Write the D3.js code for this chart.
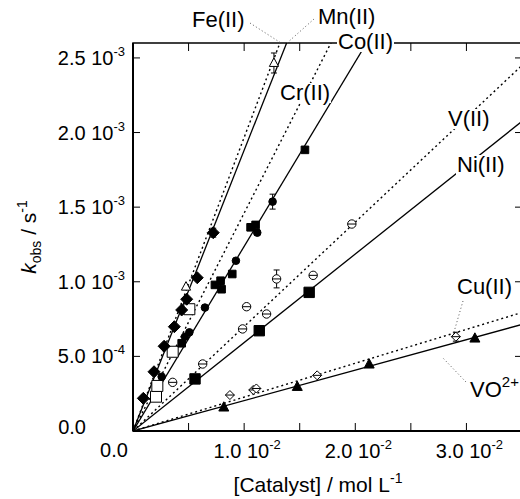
<!DOCTYPE html>
<html><head><meta charset="utf-8">
<script src="https://cdn.jsdelivr.net/npm/d3@7/dist/d3.min.js"></script>
<style>body{margin:0;background:#fff}text{font-family:"Liberation Sans",Arial,sans-serif;fill:#000}</style>
</head><body><svg id="c" width="520" height="499"></svg>
<script>
// ---------- data (concentration in mol/L, kobs in s^-1) ----------
const xMinorTicks = [0.005, 0.01, 0.015, 0.02, 0.025, 0.03];
const xLabelTicks = [0.01, 0.02, 0.03];
const xLabelMantissa = ["1.0", "2.0", "3.0"];
const xExponent = "-2";
const yTicks = [0.0005, 0.001, 0.0015, 0.002, 0.0025];
const yLabelMantissa = ["5.0", "1.0", "1.5", "2.0", "2.5"];
const yLabelExponent = ["-4", "-3", "-3", "-3", "-3"];

const feData = [[0.00477, 0.000967], [0.01268, 0.002466]];
const feErr  = [0, 0.000067];
const mnData = [[0.00093, 0.000219], [0.00189, 0.000397], [0.00280, 0.000568], [0.00372, 0.000699],
                [0.00438, 0.000811], [0.00483, 0.000883], [0.00578, 0.001027], [0.00722, 0.001329]];
const mnErr  = [0, 0, 0, 0, 0, 0, 0, 0.00003];
const crData = [[0.00207, 0.000230], [0.00219, 0.000302], [0.00357, 0.000531], [0.00507, 0.000816]];
const coCircles = [[0.00258, 0.000364], [0.00468, 0.000632], [0.00507, 0.000661], [0.00647, 0.000827],
                   [0.00926, 0.001141], [0.01118, 0.001329], [0.01256, 0.001537]];
const coCircErr = [0, 0, 0, 0, 0, 0, 0.00005];
const coSquares = [[0.00438, 0.000588], [0.00737, 0.000979], [0.00788, 0.001007], [0.00797, 0.000950],
                   [0.00893, 0.001052], [0.01058, 0.001365], [0.01103, 0.001381], [0.01547, 0.001884]];
const vData = [[0.00357, 0.000326], [0.00627, 0.000449], [0.00986, 0.000684], [0.01022, 0.000833],
               [0.01202, 0.000784], [0.01292, 0.001019], [0.01621, 0.001043], [0.01969, 0.001387]];
const vErr  = [0, 0, 0, 0, 0, 0.00006, 0, 0];
const niData = [[0.00558, 0.000349], [0.01136, 0.000672], [0.01585, 0.000929]];
const cuData = [[0.00872, 0.000241], [0.01082, 0.000275], [0.01110, 0.000285], [0.01657, 0.000373], [0.02905, 0.000632]];
const cuErr  = [0, 0, 0, 0, 0.00003];
const voData = [[0.00817, 0.000159], [0.01478, 0.000297], [0.02125, 0.000447], [0.03076, 0.000621]];

const lineNames  = ["Fe(II)", "Mn(II)", "Cr(II)", "Co(II)", "V(II)", "Ni(II)", "Cu(II)", "VO2+"];
const lineSlopes = [0.1967, 0.1881, 0.146, 0.1237, 0.070, 0.0593, 0.0227, 0.0204];

// ---------- drawing ----------
const svg = d3.select("#c");
const L = 133, R = 522, T = 43, B = 431;
const x = d3.scaleLinear().domain([0, 0.035]).range([L, R]);
const y = d3.scaleLinear().domain([0, 0.0026]).range([B, T]);

svg.append("defs").append("clipPath").attr("id", "pc")
  .append("rect").attr("x", L).attr("y", T).attr("width", R - L).attr("height", B - T);

const dashed = {"Fe(II)": true, "Cr(II)": true, "V(II)": true, "Cu(II)": true};
const lg = svg.append("g").attr("clip-path", "url(#pc)");
lineNames.forEach((n, i) => {
  lg.append("line")
    .attr("x1", x(0)).attr("y1", y(0))
    .attr("x2", x(0.035)).attr("y2", y(lineSlopes[i] * 0.035))
    .attr("stroke", "#000").attr("stroke-width", dashed[n] ? 1.4 : 1.3)
    .attr("stroke-dasharray", dashed[n] ? "2,3" : null);
});

// markers
const mg = svg.append("g");
function shape(kind, px, py, s) {
  switch (kind) {
    case "diamond": return `M${px},${py - s}L${px + s},${py}L${px},${py + s}L${px - s},${py}Z`;
    case "square": return `M${px - s},${py - s}h${2 * s}v${2 * s}h${-2 * s}Z`;
    case "triangle": return `M${px},${py - s * 1.1}L${px + s},${py + s * 0.75}L${px - s},${py + s * 0.75}Z`;
  }
}
function draw(data, kind, size, filled, errs, extra) {
  data.forEach((d, i) => {
    const px = x(d[0]), py = y(d[1]);
    if (errs && errs[i]) {
      const e1 = y(d[1] + errs[i]), e2 = y(d[1] - errs[i]);
      mg.append("line").attr("x1", px).attr("x2", px).attr("y1", e1).attr("y2", e2).attr("stroke", "#000").attr("stroke-width", 1);
      [e1, e2].forEach(e => mg.append("line").attr("x1", px - 3).attr("x2", px + 3).attr("y1", e).attr("y2", e).attr("stroke", "#000").attr("stroke-width", 1));
    }
    if (kind === "circle") {
      mg.append("circle").attr("cx", px).attr("cy", py).attr("r", size)
        .attr("fill", filled ? "#000" : "#fff").attr("stroke", "#000").attr("stroke-width", 1);
    } else {
      mg.append("path").attr("d", shape(kind, px, py, size))
        .attr("fill", filled ? "#000" : "#fff").attr("stroke", "#000").attr("stroke-width", 1);
    }
    if (extra) {
      mg.append("line").attr("x1", px - size).attr("x2", px + size).attr("y1", py).attr("y2", py).attr("stroke", "#000").attr("stroke-width", 1);
    }
  });
}
draw(crData, "square", 5.5, false, null, false);
draw(coSquares, "square", 3.8, true, null, false);
draw(coCircles, "circle", 3.8, true, coCircErr, false);
draw(mnData, "diamond", 6, true, mnErr, false);
draw(feData, "triangle", 4.6, false, feErr, false);
draw(vData, "circle", 4.2, false, vErr, true);
draw(niData, "square", 5.2, true, null, false);
draw(cuData, "diamond", 4.5, false, cuErr, true);
draw(voData, "triangle", 5, true, null, false);

// frame and ticks
const ag = svg.append("g").attr("stroke", "#000");
ag.append("rect").attr("x", L).attr("y", T).attr("width", R - L).attr("height", B - T)
  .attr("fill", "none").attr("stroke-width", 1.5);
ag.append("line").attr("x1", L).attr("x2", R).attr("y1", B).attr("y2", B).attr("stroke-width", 2.2);
ag.append("line").attr("x1", L).attr("x2", L).attr("y1", T).attr("y2", B).attr("stroke-width", 2);
xMinorTicks.forEach(v => {
  ag.append("line").attr("x1", x(v)).attr("x2", x(v)).attr("y1", B).attr("y2", B - 8).attr("stroke-width", 1);
  ag.append("line").attr("x1", x(v)).attr("x2", x(v)).attr("y1", T).attr("y2", T + 8).attr("stroke-width", 1);
});
yTicks.forEach(v => {
  ag.append("line").attr("x1", L).attr("x2", L + 7).attr("y1", y(v)).attr("y2", y(v)).attr("stroke-width", 1);
  ag.append("line").attr("x1", R).attr("x2", R - 7).attr("y1", y(v)).attr("y2", y(v)).attr("stroke-width", 1);
});

// tick labels
const tg = svg.append("g").style("font-size", "20px");
xLabelTicks.forEach((v, i) => {
  const t = tg.append("text").attr("x", x(v) + 3).attr("y", 458).attr("text-anchor", "middle");
  t.append("tspan").text(xLabelMantissa[i] + " 10");
  t.append("tspan").attr("dy", -9).style("font-size", "13px").text(xExponent);
});
tg.append("text").attr("x", 114).attr("y", 457).attr("text-anchor", "middle").text("0.0");
yTicks.forEach((v, i) => {
  const t = tg.append("text").attr("x", 125).attr("y", y(v) + 7).attr("text-anchor", "end");
  t.append("tspan").text(yLabelMantissa[i] + " 10");
  t.append("tspan").attr("dy", -9).style("font-size", "13px").text(yLabelExponent[i]);
});
tg.append("text").attr("x", 86).attr("y", 434).attr("text-anchor", "end").text("0.0");

// axis titles
const xt = svg.append("text").attr("x", 318).attr("y", 492).attr("text-anchor", "middle").style("font-size", "21px");
xt.append("tspan").text("[Catalyst] / mol L");
xt.append("tspan").attr("dy", -9).style("font-size", "14px").text("-1");

const yt = svg.append("text").attr("transform", "translate(36,237) rotate(-90)").attr("text-anchor", "middle").style("font-size", "21px");
yt.append("tspan").style("font-style", "italic").text("k");
yt.append("tspan").attr("dy", 5).style("font-size", "14px").text("obs");
yt.append("tspan").attr("dy", -5).text(" / s");
yt.append("tspan").attr("dy", -9).style("font-size", "14px").text("-1");

// leaders
const leaders = [[250, 23, 281, 43], [314, 19, 287, 43], [463, 301, 454, 332], [466, 382, 442, 357]];
leaders.forEach(l => svg.append("line").attr("x1", l[0]).attr("y1", l[1]).attr("x2", l[2]).attr("y2", l[3])
  .attr("stroke", "#555").attr("stroke-width", 1).attr("stroke-dasharray", "1,2.5"));

// series labels (white background)
const labelPos = {"Fe(II)": [192, 27, false], "Mn(II)": [318, 24, false], "Co(II)": [338, 49, true],
  "Cr(II)": [280, 100, true], "V(II)": [448, 126, true], "Ni(II)": [457, 172, true],
  "Cu(II)": [457, 294, false], "VO2+": [470, 397, false]};
const lab = svg.append("g").style("font-size", "22px");
Object.keys(labelPos).forEach(n => {
  const p = labelPos[n];
  const g = lab.append("g");
  const t = g.append("text").attr("x", p[0]).attr("y", p[1]);
  if (n === "VO2+") {
    t.append("tspan").text("VO");
    t.append("tspan").attr("dy", -10).style("font-size", "15px").text("2+");
  } else t.text(n);
  if (p[2]) {
    const bb = t.node().getBBox();
    g.insert("rect", "text").attr("x", bb.x - 1).attr("y", bb.y + 3).attr("width", bb.width + 2).attr("height", bb.height - 5).attr("fill", "#fff");
  }
});
</script></body></html>
